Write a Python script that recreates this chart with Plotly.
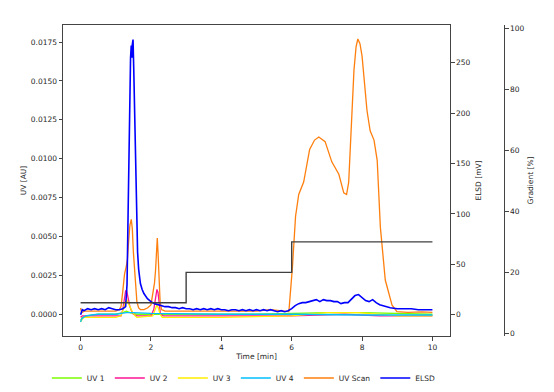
import plotly.graph_objects as go

# ---------------- data ----------------
# Gradient program [%]
t_grad = [0, 3, 3, 6, 6, 10]
grad = [10, 10, 20, 20, 30, 30]

# ELSD [mV]
t_elsd = [0.00, 0.05, 0.10, 0.20, 0.30, 0.40, 0.50, 0.60, 0.70, 0.80, 0.90, 1.00, 1.10, 1.20,
          1.28, 1.32, 1.35, 1.38, 1.40, 1.42, 1.44, 1.45, 1.46, 1.47, 1.49, 1.51, 1.53, 1.56,
          1.58, 1.60, 1.62, 1.65, 1.70, 1.75, 1.80, 1.90, 2.00, 2.10, 2.20, 2.30, 2.40, 2.50,
          2.60, 2.70, 2.80, 2.90, 3.00, 3.10, 3.20, 3.30, 3.40, 3.50, 3.60, 3.70, 3.80, 3.90,
          4.00, 4.10, 4.20, 4.30, 4.40, 4.50, 4.60, 4.70, 4.80, 4.90, 5.00, 5.10, 5.20, 5.30,
          5.40, 5.50, 5.60, 5.70, 5.80, 5.90, 6.00, 6.10, 6.20, 6.30, 6.40, 6.50, 6.60, 6.70,
          6.80, 6.90, 7.00, 7.10, 7.20, 7.30, 7.40, 7.50, 7.60, 7.70, 7.80, 7.90, 8.00, 8.10,
          8.20, 8.30, 8.40, 8.50, 8.60, 8.70, 8.80, 9.00, 9.20, 9.40, 9.60, 9.80, 10.00]
elsd = [0, 5, 4, 6, 5, 6, 5, 6, 5, 7, 6, 5, 5, 6,
        8, 30, 100, 175, 225, 255, 267, 262, 255, 268, 273, 245, 210, 160,
        127, 92, 62, 45, 31, 25, 21, 16, 13, 11, 10, 9, 8, 8,
        7, 7, 6, 7, 6, 6, 5, 6, 5, 6, 5, 6, 5, 6,
        5, 5, 4, 5, 5, 4, 5, 4, 5, 4, 5, 4, 5, 4,
        5, 4, 3, 4, 3, 4, 6, 9, 11, 12, 12, 13, 14, 15,
        13, 15, 14, 14, 13, 13, 11, 12, 12, 16, 19, 20, 17, 14,
        13, 15, 12, 10, 9, 8, 7, 6, 6, 6, 5, 5, 5]

# UV Scan [AU]
t_scan = [0.00, 0.03, 0.10, 0.30, 0.50, 0.70, 0.90, 1.00, 1.10, 1.15, 1.20, 1.25, 1.30, 1.33,
          1.36, 1.40, 1.44, 1.47, 1.50, 1.53, 1.56, 1.60, 1.65, 1.70, 1.80, 1.90, 2.00, 2.05,
          2.10, 2.13, 2.16, 2.18, 2.20, 2.23, 2.26, 2.30, 2.40, 2.80, 3.50, 4.20, 5.00, 5.40,
          5.92, 6.02, 6.11, 6.20, 6.34, 6.51, 6.65, 6.77, 6.95, 7.14, 7.34, 7.48, 7.56, 7.62,
          7.67, 7.77, 7.83, 7.88, 7.94, 8.00, 8.14, 8.23, 8.34, 8.43, 8.52, 8.66, 8.85, 8.99,
          9.30, 9.70, 10.00]
uv_scan = [0.0004, 0.0001, 0.0002, 0.0002, 0.0002, 0.0002, 0.0002, 0.0002, 0.0003, 0.0005, 0.0015, 0.0026, 0.0031, 0.0035,
           0.0045, 0.0057, 0.0061, 0.0055, 0.0040, 0.0028, 0.0016, 0.0008, 0.0004, 0.0003, 0.0003, 0.0004, 0.0006, 0.0012,
           0.0020, 0.0028, 0.0042, 0.0049, 0.0040, 0.0022, 0.0008, 0.0003, 0.0002, 0.0002, 0.0002, 0.0002, 0.0002, 0.0003,
           0.00017, 0.0030, 0.0063, 0.0077, 0.0085, 0.0106, 0.0112, 0.0114, 0.0111, 0.0098, 0.0090, 0.0078, 0.0077, 0.0085,
           0.0108, 0.0157, 0.0172, 0.0177, 0.0174, 0.0166, 0.0131, 0.0118, 0.0112, 0.0099, 0.0056, 0.0022, 0.0006, 0.00017,
           0.00012, 0.00015, 0.00012]

# UV 1 [AU]
t_uv1 = [0.00, 0.05, 0.20, 0.50, 1.00, 1.20, 1.30, 1.40, 1.60, 2.00, 3.00, 5.00, 7.00, 8.00, 10.00]
uv1 = [-0.0004, -0.0002, -0.0001, 0.0000, 0.0000, 0.0001, 0.0002, 0.0001, 0.0000, 0.0000, 0.0000, 0.0000, 0.0001, 0.0001, 0.0000]

# UV 2 [AU]
t_uv2 = [0.00, 0.05, 0.50, 1.00, 1.15, 1.20, 1.24, 1.28, 1.31, 1.35, 1.40, 1.45, 1.50, 1.60,
         2.00, 2.08, 2.13, 2.17, 2.20, 2.23, 2.27, 2.35, 4.00, 6.00, 7.50, 8.50, 10.00]
uv2 = [-0.0002, -0.0001, -0.0001, -0.0001, -0.0001, 0.0003, 0.0011, 0.0015, 0.0015, 0.0010, 0.0005, 0.0002, 0.0000, -0.0001,
       -0.0001, 0.0003, 0.0010, 0.0016, 0.0014, 0.0006, 0.0000, -0.0001, -0.0001, -0.0001, 0.0000, -0.0001, -0.0001]

# UV 3 [AU]
t_uv3 = [0.00, 0.05, 0.10, 0.50, 1.00, 1.15, 1.22, 1.28, 1.32, 1.36, 1.42, 1.48, 1.55, 1.60,
         2.05, 2.12, 2.17, 2.21, 2.26, 2.32, 4.00, 6.00, 7.00, 7.90, 8.50, 9.00, 10.00]
uv3 = [-0.0005, -0.0003, -0.0002, -0.0002, -0.0002, -0.0001, 0.0004, 0.0008, 0.0009, 0.0007, 0.0004, 0.0001, -0.0001, -0.0002,
       -0.0001, 0.0003, 0.0006, 0.0004, 0.0000, -0.0002, -0.0002, -0.0001, 0.0001, 0.0001, 0.0000, -0.0001, -0.0001]

# UV 4 [AU]
t_uv4 = [0.00, 0.03, 0.08, 0.15, 0.30, 0.50, 1.00, 1.30, 1.50, 2.00, 4.00, 6.00, 8.00, 10.00]
uv4 = [-0.0005, -0.0003, -0.0002, -0.0001, -0.00005, 0.0000, 0.0000, 0.0001, 0.0001, 0.00005, 0.0000, 0.0000, -0.00005, -0.00005]

uv_ticks = [0.0, 0.0025, 0.005, 0.0075, 0.01, 0.0125, 0.015, 0.0175]
elsd_ticks = [0, 50, 100, 150, 200, 250]
grad_ticks = [0, 20, 40, 60, 80, 100]
x_ticks = [0, 2, 4, 6, 8, 10]

# ---------------- figure ----------------
fig = go.Figure()
lw = 1.3
fig.add_trace(go.Scatter(x=t_uv1, y=uv1, name="UV 1", mode="lines", line=dict(color="#7CFC00", width=lw)))
fig.add_trace(go.Scatter(x=t_uv2, y=uv2, name="UV 2", mode="lines", line=dict(color="#FF1493", width=lw)))
fig.add_trace(go.Scatter(x=t_uv3, y=uv3, name="UV 3", mode="lines", line=dict(color="#FFEF00", width=lw)))
fig.add_trace(go.Scatter(x=t_uv4, y=uv4, name="UV 4", mode="lines", line=dict(color="#00BFFF", width=lw)))
fig.add_trace(go.Scatter(x=t_scan, y=uv_scan, name="UV Scan", mode="lines", line=dict(color="#FF7F0E", width=lw)))
fig.add_trace(go.Scatter(x=t_elsd, y=elsd, name="ELSD", mode="lines", yaxis="y2", line=dict(color="#0000FF", width=1.6)))
fig.add_trace(go.Scatter(x=t_grad, y=grad, name="Gradient", mode="lines", yaxis="y3", showlegend=False,
                         line=dict(color="#404040", width=1.4)))

axis_common = dict(showline=True, linecolor="#444444", linewidth=1, ticks="outside", ticklen=3.5,
                   tickwidth=0.8, tickcolor="#444444", showgrid=False, zeroline=False, automargin=False,
                   tickfont=dict(size=7.5, color="#262626"))

fig.update_layout(
    width=554, height=392,
    margin=dict(l=63, r=50, t=25, b=56, autoexpand=False),
    paper_bgcolor="white", plot_bgcolor="white",
    font=dict(family="DejaVu Sans", size=7.5, color="#262626"),
    xaxis=dict(domain=[0, 0.8776], range=[-0.5, 10.5], tickvals=x_ticks, mirror=True,
               title=dict(text="Time [min]", standoff=3, font=dict(size=7.5)), **axis_common),
    yaxis=dict(range=[-0.0014, 0.0186], tickvals=uv_ticks, tickformat=".4f", mirror=True,
               title=dict(text="UV [AU]", standoff=3, font=dict(size=7.5)), **axis_common),
    yaxis2=dict(range=[-21.1, 287.4], tickvals=elsd_ticks, overlaying="y", side="right", anchor="x",
                title=dict(text="ELSD [mV]", standoff=6, font=dict(size=7.5)), **axis_common),
    yaxis3=dict(range=[-0.9, 101.2], tickvals=grad_ticks, overlaying="y", side="right", anchor="free",
                position=1.0, title=dict(text="Gradient [%]", standoff=4, font=dict(size=7.5)), **axis_common),
    legend=dict(orientation="h", x=0.41, xanchor="center", y=-0.135, yanchor="middle",
                font=dict(size=7.5), bgcolor="rgba(0,0,0,0)"),
    showlegend=True,
)

fig.write_html("out.html", config={"displayModeBar": False},
               post_script="document.body.style.margin='0';")
